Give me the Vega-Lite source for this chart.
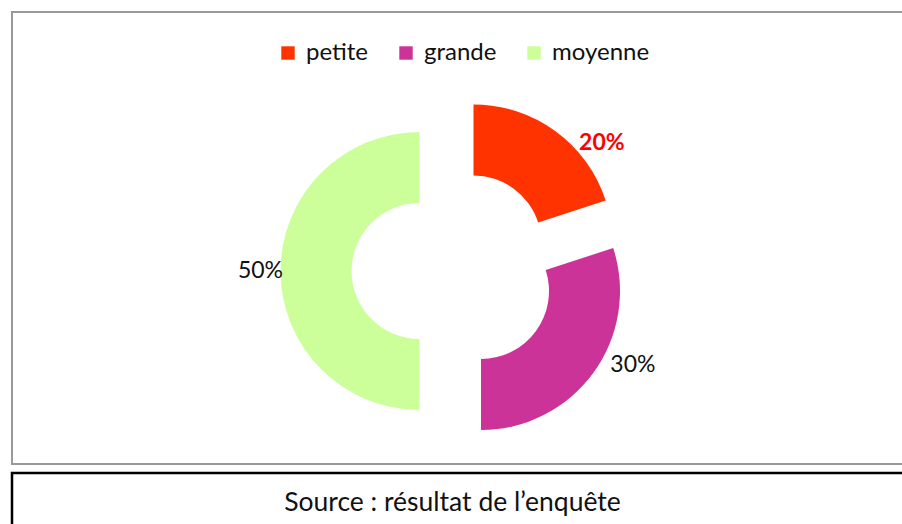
{
  "$schema": "https://vega.github.io/schema/vega-lite/v6.json",
  "background": "white",
  "padding": {"left": 10, "top": 11, "right": 0, "bottom": 0},
  "spacing": 6,
  "config": {"font": "Lato", "view": {"stroke": null}},
  "datasets": {
    "parts": [
      {"categorie": "petite", "part": 20, "ordre": 1, "label": "20%"},
      {"categorie": "grande", "part": 30, "ordre": 2, "label": "30%"},
      {"categorie": "moyenne", "part": 50, "ordre": 3, "label": "50%"}
    ],
    "source": [{"texte": "Source : résultat de l’enquête"}]
  },
  "vconcat": [
    {
      "width": 893,
      "height": 452,
      "view": {"stroke": "#999999", "strokeWidth": 2},
      "data": {"name": "parts"},
      "transform": [
        {"stack": "part", "groupby": [], "as": ["debut", "fin"], "sort": [{"field": "ordre", "order": "ascending"}]}
      ],
      "encoding": {
        "theta": {"field": "debut", "type": "quantitative", "scale": {"domain": [0, 100]}},
        "theta2": {"field": "fin"},
        "color": {
          "field": "categorie", "type": "nominal",
          "scale": {"domain": ["petite", "grande", "moyenne"], "range": ["#FF3300", "#CC3399", "#CCFF99"]},
          "legend": {
            "title": null, "orient": "none", "direction": "horizontal",
            "legendX": 264, "legendY": 29,
            "symbolType": "square", "symbolSize": 180, "symbolStrokeWidth": 0,
            "labelFont": "Lato", "labelFontSize": 24, "labelColor": "#111111",
            "columnPadding": 25, "labelOffset": 6
          }
        }
      },
      "layer": [
        {"transform": [{"filter": "datum.categorie === 'petite'"}],
         "mark": {"type": "arc", "radius": 139, "radius2": 68, "xOffset": 15, "yOffset": 5.5}},
        {"transform": [{"filter": "datum.categorie === 'grande'"}],
         "mark": {"type": "arc", "radius": 139, "radius2": 68, "xOffset": 22.5, "yOffset": 53}},
        {"transform": [{"filter": "datum.categorie === 'moyenne'"}],
         "mark": {"type": "arc", "radius": 139, "radius2": 68, "xOffset": -39, "yOffset": 33}},
        {"transform": [{"filter": "datum.categorie === 'petite'"}],
         "mark": {"type": "text", "radius": 163, "thetaOffset": 0.907, "fontSize": 23, "fontWeight": "bold", "xOffset": 15, "yOffset": 5.5},
         "encoding": {"text": {"field": "label"}, "color": {"value": "#FF0000"}}},
        {"transform": [{"filter": "datum.categorie === 'grande'"}],
         "mark": {"type": "text", "radius": 169, "thetaOffset": 0.768, "fontSize": 23, "xOffset": 22.5, "yOffset": 53},
         "encoding": {"text": {"field": "label"}, "color": {"value": "#111111"}}},
        {"transform": [{"filter": "datum.categorie === 'moyenne'"}],
         "mark": {"type": "text", "radius": 159, "thetaOffset": 1.5708, "fontSize": 23, "xOffset": -39, "yOffset": 33},
         "encoding": {"text": {"field": "label"}, "color": {"value": "#111111"}}}
      ]
    },
    {
      "width": 895,
      "height": 60,
      "view": {"stroke": "#000000", "strokeWidth": 2.5},
      "data": {"name": "source"},
      "mark": {"type": "text", "fontSize": 26.5, "color": "#111111", "dx": -7},
      "encoding": {"text": {"field": "texte"}}
    }
  ]
}
